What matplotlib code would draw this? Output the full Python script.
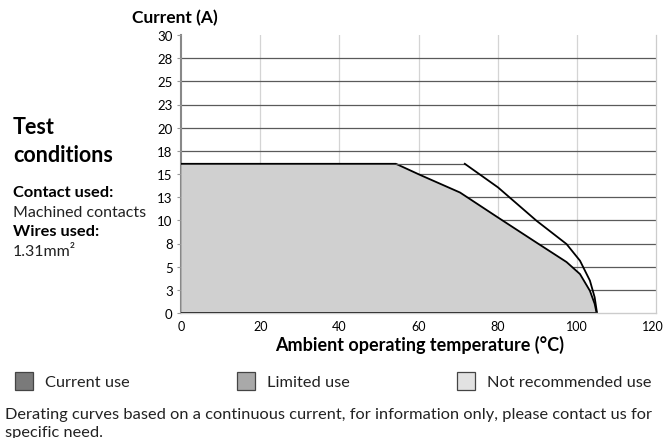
import numpy as np
import matplotlib
matplotlib.use("Agg")
import matplotlib.pyplot as plt
import matplotlib.transforms as mtransforms
from matplotlib.patches import Rectangle

plt.rcParams['font.family'] = ['Lato', 'DejaVu Sans']

# Derating curve data
temp_limited = [0, 54.3, 60.4, 70.5, 80.1, 89.8, 97.4, 100.8, 103.3, 104.5, 105]
curr_limited = [16.1, 16.1, 14.9, 13.0, 10.3, 7.6, 5.5, 4.2, 2.4, 1.0, 0]

temp_max = [54.3, 71.7, 80.1, 89.8, 97.4, 100.8, 103.3, 104.5, 105.1]
curr_max = [16.1, 16.1, 13.55, 9.96, 7.44, 5.64, 3.5, 1.7, 0]

y_ticks = [0, 2.5, 5, 7.5, 10, 12.5, 15, 17.5, 20, 22.5, 25, 27.5, 30]
y_labels = ["0", "3", "5", "8", "10", "13", "15", "18", "20", "23", "25", "28", "30"]
x_ticks = [0, 20, 40, 60, 80, 100, 120]

legend_names = ["Current use", "Limited use", "Not recommended use"]
legend_colors = ["#7a7a7a", "#a9a9a9", "#e2e2e2"]

W, H = 665, 439
fig = plt.figure(figsize=(W / 100, H / 100), dpi=100)
ax = fig.add_axes([181 / W, 1 - 314 / H, (656 - 181) / W, (314 - 36) / H])

ax.set_xlim(0, 120)
ax.set_ylim(0, 30)

# grid
for y in y_ticks[1:-1]:
    ax.axhline(y, color="#5a5a5a", lw=0.9, zorder=1)
for x in x_ticks[1:-1]:
    ax.axvline(x, color="#d4d4d4", lw=0.9, zorder=0.5)

# curves
ax.fill_between(temp_limited, curr_limited, 0, color="#d0d0d0", zorder=2, lw=0)
ax.plot(temp_limited + [0], curr_limited + [0], color="black", lw=1.3, zorder=3,
        solid_joinstyle="round")
ax.plot(temp_max[:2], curr_max[:2], color="#555555", lw=0.9, zorder=3)
ax.plot(temp_max[1:], curr_max[1:], color="black", lw=1.3, zorder=3,
        solid_joinstyle="round")

ax.set_yticks(y_ticks)
ax.set_yticklabels(y_labels)
ax.set_xticks(x_ticks)
ax.tick_params(axis="y", length=3, width=0.8, color="#999999", pad=3, labelsize=9.5)
ax.tick_params(axis="x", length=0, pad=5, labelsize=9)

# keep the last x label inside the figure
last = ax.get_xticklabels()[-1]
last.set_transform(last.get_transform() +
                   mtransforms.ScaledTranslation(-3 / 100, 0, fig.dpi_scale_trans))

ax.spines["top"].set_visible(False)
ax.spines["right"].set_color("#cccccc")
ax.spines["right"].set_linewidth(0.9)
ax.spines["left"].set_color("#888888")
ax.spines["left"].set_linewidth(1.5)
ax.spines["bottom"].set_color("#cccccc")
ax.spines["bottom"].set_linewidth(1)
for s in ax.spines.values():
    s.set_zorder(4)
ax.spines["left"].set_zorder(1.5)

def fx(px):
    return px / W

def fy(py):
    return 1 - py / H

fig.text(fx(132), fy(18), "Current (A)", fontsize=12.5, fontweight="bold", va="center")
fig.text(fx(420), fy(345), "Ambient operating temperature (°C)", fontsize=13,
         fontweight="bold", va="center", ha="center")

# left panel
fig.text(fx(13), fy(128), "Test", fontsize=15.5, fontweight="bold", va="center")
fig.text(fx(13), fy(156), "conditions", fontsize=15.5, fontweight="bold", va="center")
fig.text(fx(13), fy(193), "Contact used:", fontsize=11.8, fontweight="bold", va="center")
fig.text(fx(13), fy(213), "Machined contacts", fontsize=11.5, va="center", color="#222222")
fig.text(fx(13), fy(232), "Wires used:", fontsize=11.8, fontweight="bold", va="center")
fig.text(fx(13), fy(252), "1.31mm²", fontsize=11.5, va="center", color="#222222")

# legend
legend_x = [15, 237, 457]
for lx, name, col in zip(legend_x, legend_names, legend_colors):
    fig.add_artist(Rectangle((fx(lx), fy(391)), 18 / W, 18 / H, transform=fig.transFigure,
                             facecolor=col, edgecolor="#444444", lw=0.9))
    fig.text(fx(lx + 30), fy(383), name, fontsize=11.8, va="center", color="#222222")

fig.text(fx(5), fy(415), "Derating curves based on a continuous current, for information only, please contact us for",
         fontsize=11.8, va="center", color="#222222")
fig.text(fx(5), fy(433), "specific need.", fontsize=11.8, va="center", color="#222222")

fig.savefig("out.png", dpi=100)
